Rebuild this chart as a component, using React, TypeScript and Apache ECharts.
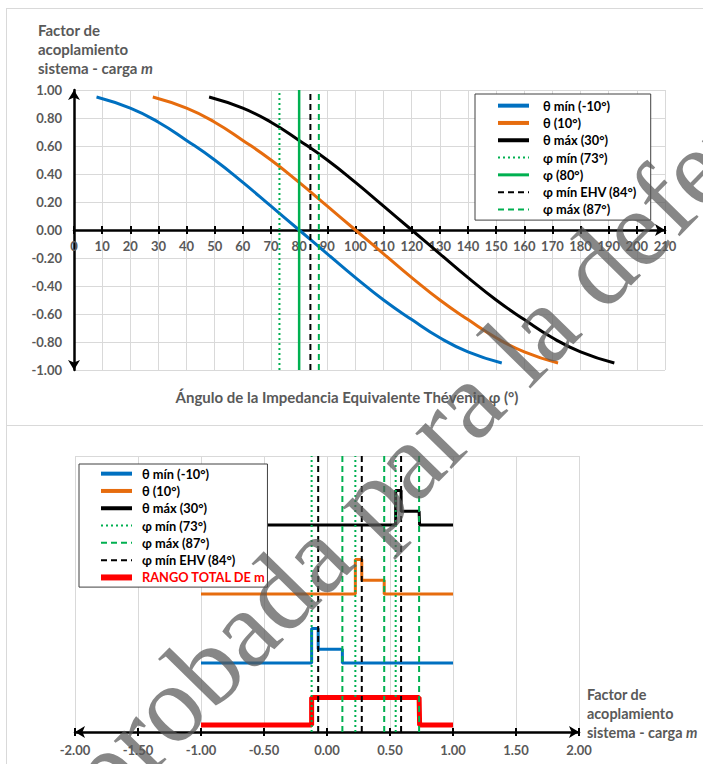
import React, { useEffect, useRef } from 'react';
import * as echarts from 'echarts';

// ---------- Data ----------
// Top chart: coupling factor m vs Thévenin impedance angle φ
const phiBlue = [8, 20, 30, 40, 50, 60, 70, 80, 90, 100, 110, 120, 130, 140, 152];
const mBlue = [0.95, 0.87, 0.77, 0.64, 0.5, 0.34, 0.17, 0.0, -0.17, -0.34, -0.5, -0.64, -0.77, -0.87, -0.95];
const phiOrange = [28, 40, 50, 60, 70, 80, 90, 100, 110, 120, 130, 140, 150, 160, 172];
const mOrange = [0.95, 0.87, 0.77, 0.64, 0.5, 0.34, 0.17, 0.0, -0.17, -0.34, -0.5, -0.64, -0.77, -0.87, -0.95];
const phiBlack = [48, 60, 70, 80, 90, 100, 110, 120, 130, 140, 150, 160, 170, 180, 192];
const mBlack = [0.95, 0.87, 0.77, 0.64, 0.5, 0.34, 0.17, 0.0, -0.17, -0.34, -0.5, -0.64, -0.77, -0.87, -0.95];

const phiMin = 73;
const phiNom = 80;
const phiEhv = 84;
const phiMax = 87;
const mSpan = [-1, 1];

// Bottom chart: step profiles along m
const stepBlueX = [-1, -0.122, -0.122, -0.07, -0.07, 0.122, 0.122, 1];
const stepBlueY = [1, 1, 1.5, 1.5, 1.2, 1.2, 1, 1];
const stepOrangeX = [-1, 0.225, 0.225, 0.276, 0.276, 0.454, 0.454, 1];
const stepOrangeY = [2, 2, 2.5, 2.5, 2.2, 2.2, 2, 2];
const stepBlackX = [-1, 0.545, 0.545, 0.588, 0.588, 0.731, 0.735, 1];
const stepBlackY = [3, 3, 3.5, 3.5, 3.2, 3.2, 3, 3];
const rangeX = [-1, -0.122, -0.122, 0.731, 0.735, 1];
const rangeY = [0.1, 0.1, 0.5, 0.5, 0.1, 0.1];

const mAtPhiMin = [-0.122, 0.225, 0.545];
const mAtPhiMax = [0.122, 0.454, 0.731];
const mAtPhiEhv = [-0.07, 0.276, 0.588];
const levelSpan = [0, 4];

// ---------- Styles ----------
const FONT = 'Lato, "Open Sans", sans-serif';
const GRAY = '#595959';
const BLUE = '#0070C0';
const ORANGE = '#E66C0E';
const GREEN = '#00B050';
const GRID = '#d9d9d9';

const N_BLUE = 'θ mín (-10°)';
const N_ORANGE = 'θ (10°)';
const N_BLACK = 'θ máx (30°)';
const N_PMIN = 'φ mín (73°)';
const N_PNOM = 'φ (80°)';
const N_PEHV = 'φ mín EHV (84°)';
const N_PMAX = 'φ máx (87°)';
const N_RANGE = 'RANGO TOTAL DE m';

const zip = (xs: number[], ys: number[]) => xs.map((x, i) => [x, ys[i]]);
const vline = (x: number, span: number[]) => [[x, span[0]], [x, span[1]]];

const DOT = [2, 3];
const DASH = [6, 4];

function buildOption() {
  const series: any[] = [];
  const curve = (name: string, xs: number[], ys: number[], color: string) => ({
    type: 'line', name, xAxisIndex: 0, yAxisIndex: 0, data: zip(xs, ys), smooth: true,
    symbol: 'none', lineStyle: { color, width: 3 }, itemStyle: { color }, z: 3,
  });
  series.push(curve(N_BLUE, phiBlue, mBlue, BLUE));
  series.push(curve(N_ORANGE, phiOrange, mOrange, ORANGE));
  series.push(curve(N_BLACK, phiBlack, mBlack, '#000'));
  const vTop = (name: string, x: number, color: string, type: any, width: number) => ({
    type: 'line', name, xAxisIndex: 0, yAxisIndex: 0, data: vline(x, mSpan), symbol: 'none',
    lineStyle: { color, width, type }, itemStyle: { color }, z: 4,
  });
  series.push(vTop(N_PMIN, phiMin, GREEN, DOT, 2));
  series.push(vTop(N_PNOM, phiNom, GREEN, 'solid', 2.5));
  series.push(vTop(N_PEHV, phiEhv, '#000', DASH, 2));
  series.push(vTop(N_PMAX, phiMax, GREEN, DASH, 2));

  const step = (name: string, xs: number[], ys: number[], color: string, width: number) => ({
    type: 'line', name, xAxisIndex: 2, yAxisIndex: 2, data: zip(xs, ys), symbol: 'none',
    lineStyle: { color, width }, itemStyle: { color }, z: 3,
  });
  series.push(step(N_BLUE, stepBlueX, stepBlueY, BLUE, 3));
  series.push(step(N_ORANGE, stepOrangeX, stepOrangeY, ORANGE, 3));
  series.push(step(N_BLACK, stepBlackX, stepBlackY, '#000', 3));
  series.push(step(N_RANGE, rangeX, rangeY, '#FF0000', 5));
  const vBot = (name: string, xs: number[], color: string, type: any) =>
    xs.forEach((x) =>
      series.push({
        type: 'line', name, xAxisIndex: 2, yAxisIndex: 2, data: vline(x, levelSpan), symbol: 'none',
        lineStyle: { color, width: 2, type }, itemStyle: { color }, z: 4,
      })
    );
  vBot(N_PMIN, mAtPhiMin, GREEN, DOT);
  vBot(N_PMAX, mAtPhiMax, GREEN, DASH);
  vBot(N_PEHV, mAtPhiEhv, '#000', DASH);

  const labelFont = { fontFamily: FONT, fontWeight: 'bold' as const, fontSize: 13, color: GRAY };
  const legendBase = {
    orient: 'vertical', itemWidth: 31, itemHeight: 12, itemGap: 0, borderColor: '#404040', borderWidth: 1,
    backgroundColor: '#fff', selectedMode: false, z: 10,
    lineStyle: { width: 2 },
    itemStyle: { opacity: 0 },
  };
  const legendText = (padLeft: number) => ({
    fontFamily: FONT, fontWeight: 'bold', fontSize: 12.8, color: '#000', lineHeight: 17.3, padding: [0, 0, 0, padLeft],
  });
  const thick = { lineStyle: { width: 4 } };
  const richFor = (size: number) => ({
    b: { fontFamily: FONT, fontWeight: 'bold', fontSize: size, fill: GRAY, lineHeight: 19 },
    i: { fontFamily: FONT, fontWeight: 'bold', fontStyle: 'italic', fontSize: size, fill: GRAY, lineHeight: 19 },
  });
  const titleText = '{b|Factor de}\n{b|acoplamiento}\n{b|sistema - carga }{i|m}';

  return {
    animation: false,
    backgroundColor: '#fff',
    grid: [
      { left: 74, top: 90, width: 591, height: 280 },
      { left: 75, top: 456, width: 504, height: 276 },
    ],
    xAxis: [
      {
        gridIndex: 0, type: 'value', min: 0, max: 210, interval: 10, position: 'bottom',
        axisLine: { show: true, onZero: true, symbol: ['none', 'arrow'], symbolSize: [9, 10], lineStyle: { color: '#000', width: 2.5 } },
        axisTick: { show: true, length: 4, lineStyle: { color: '#000', width: 2 } },
        axisLabel: { ...labelFont, margin: -131 },
        splitLine: { show: true, lineStyle: { color: GRID, width: 1 } },
      },
      {
        gridIndex: 0, type: 'value', min: 0, max: 210, interval: 10, position: 'bottom',
        axisLine: { show: false, onZero: true },
        axisTick: { show: true, inside: true, length: 4, lineStyle: { color: '#000', width: 2 } },
        axisLabel: { show: false }, splitLine: { show: false },
      },
      {
        gridIndex: 1, type: 'value', min: -2, max: 2, interval: 0.5, position: 'bottom',
        axisLine: { show: true, onZero: false, symbol: ['arrow', 'arrow'], symbolSize: [9, 10], lineStyle: { color: '#000', width: 2.5 } },
        axisTick: { show: true, length: 4, lineStyle: { color: '#000', width: 2 } },
        axisLabel: { ...labelFont, margin: 11, formatter: (v: number) => v.toFixed(2) },
        splitLine: { show: true, lineStyle: { color: GRID, width: 1 } },
      },
      {
        gridIndex: 1, type: 'value', min: -2, max: 2, interval: 0.5, position: 'bottom',
        axisLine: { show: false, onZero: false },
        axisTick: { show: true, inside: true, length: 4, lineStyle: { color: '#000', width: 2 } },
        axisLabel: { show: false }, splitLine: { show: false },
      },
    ],
    yAxis: [
      {
        gridIndex: 0, type: 'value', min: -1, max: 1, interval: 0.2,
        axisLine: { show: true, onZero: true, symbol: ['arrow', 'arrow'], symbolSize: [9, 10], lineStyle: { color: '#000', width: 2.5 } },
        axisTick: { show: false },
        axisLabel: { ...labelFont, margin: 12, formatter: (v: number) => v.toFixed(2) },
        splitLine: { show: true, lineStyle: { color: GRID, width: 1 } },
      },
      {
        gridIndex: 0, type: 'value', min: -1, max: 1, interval: 0.2, position: 'right',
        axisLine: { show: false }, axisTick: { show: false }, axisLabel: { show: false }, splitLine: { show: false },
      },
      {
        gridIndex: 1, type: 'value', min: 0, max: 4, interval: 4,
        axisLine: { show: false }, axisTick: { show: false }, axisLabel: { show: false },
        splitLine: { show: true, lineStyle: { color: GRID, width: 1 } },
      },
    ],
    legend: [
      {
        ...legendBase, left: 475, top: 94, padding: [3, 14, 2, 21], textStyle: legendText(9),
        data: [
          { name: N_BLUE, ...thick }, { name: N_ORANGE, ...thick }, { name: N_BLACK, ...thick },
          { name: N_PMIN }, { name: N_PNOM, lineStyle: { width: 3 } }, { name: N_PEHV }, { name: N_PMAX },
        ],
      },
      {
        ...legendBase, left: 79, top: 464, padding: [1, 2, 1, 19], textStyle: legendText(5),
        data: [
          { name: N_BLUE, ...thick }, { name: N_ORANGE, ...thick }, { name: N_BLACK, ...thick },
          { name: N_PMIN }, { name: N_PMAX }, { name: N_PEHV },
          { name: N_RANGE, lineStyle: { width: 6 }, textStyle: { color: '#FF0000' } },
        ],
      },
    ],
    graphic: [
      { type: 'line', z: 0, shape: { x1: 6.5, y1: 8, x2: 6.5, y2: 764 }, style: { stroke: GRID, lineWidth: 1 } },
      { type: 'line', z: 0, shape: { x1: 6, y1: 8.5, x2: 703, y2: 8.5 }, style: { stroke: GRID, lineWidth: 1 } },
      { type: 'line', z: 0, shape: { x1: 6, y1: 425.5, x2: 703, y2: 425.5 }, style: { stroke: GRID, lineWidth: 1 } },
      {
        type: 'text', x: 38, y: 20, z: 20,
        style: { text: titleText, rich: richFor(15), textVerticalAlign: 'top' },
      },
      {
        type: 'text', x: 587, y: 685, z: 20,
        style: { text: titleText, rich: richFor(14.4), textVerticalAlign: 'top' },
      },
      {
        type: 'text', x: 347, y: 397, z: 20,
        style: {
          text: 'Ángulo de la Impedancia Equivalente Thévenin φ (°)',
          fontFamily: FONT, fontWeight: 'bold', fontSize: 15, fill: GRAY,
          textAlign: 'center', textVerticalAlign: 'middle',
        },
      },
      {
        type: 'text', x: 420, y: 448, z: 100, rotation: 0.795,
        style: {
          text: 'Aprobada para la defensa',
          fontFamily: '"Liberation Serif", "DejaVu Serif", serif', fontSize: 110, fill: '#595959', opacity: 0.72,
          textAlign: 'center', textVerticalAlign: 'middle',
        },
      },
    ],
    series,
  };
}

export default function App() {
  const ref = useRef<HTMLDivElement>(null);
  useEffect(() => {
    const chart = echarts.init(ref.current!, null, { renderer: 'svg' });
    chart.setOption(buildOption() as any);
    return () => chart.dispose();
  }, []);
  return (
    <div
      ref={ref}
      style={{ position: 'fixed', left: 0, top: 0, width: 703, height: 764, background: '#fff' }}
    />
  );
}
